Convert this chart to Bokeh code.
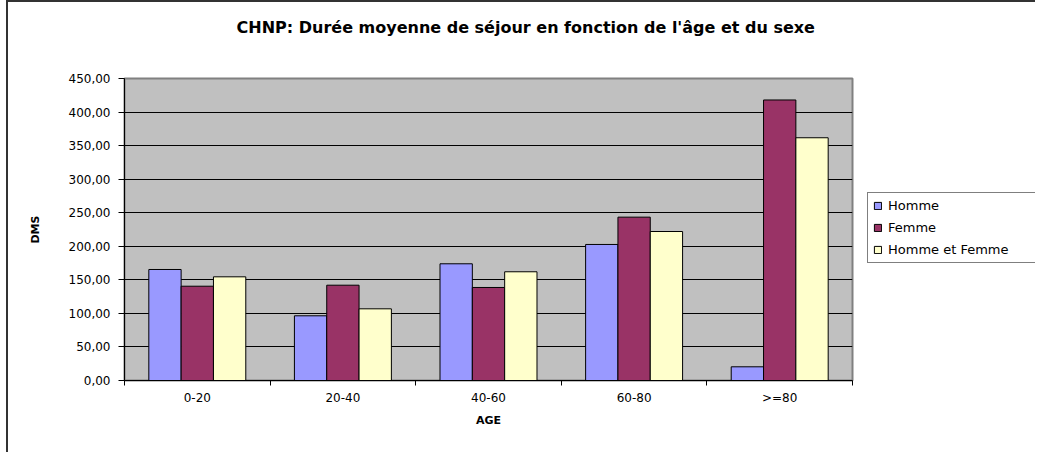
from bokeh.plotting import figure
from bokeh.layouts import row
from bokeh.models import (FixedTicker, Legend, LegendItem, Title, LinearAxis,
                          Range1d)
from bokeh.embed import file_html
from bokeh.resources import INLINE

# ---- data ----
categories = ["0-20", "20-40", "40-60", "60-80", ">=80"]
series_names = ["Homme", "Femme", "Homme et Femme"]
homme = [165.4, 96.4, 173.9, 202.7, 20.4]
femme = [140.5, 142.0, 138.6, 243.4, 418.0]
homme_et_femme = [154.5, 106.8, 162.0, 222.0, 361.7]
y_ticks = [0, 50, 100, 150, 200, 250, 300, 350, 400, 450]
y_tick_labels = ["0,00", "50,00", "100,00", "150,00", "200,00", "250,00",
                 "300,00", "350,00", "400,00", "450,00"]
title_text = "CHNP: Durée moyenne de séjour en fonction de l'âge et du sexe"
x_title = "AGE"
y_title = "DMS"

# ---- style ----
colors = ["#9999FF", "#993366", "#FFFFCC"]
FONT = "DejaVu Sans"
H = 450
ML, MR, MT = 116, 8, 76
FRAME_W, FRAME_H = 728, 302
MB = H - MT - FRAME_H
W1 = ML + FRAME_W + MR          # main figure width
W2 = 175                        # legend strip width
bar_w = 0.222
series = [homme, femme, homme_et_femme]

p = figure(width=W1, height=H, output_backend="svg", toolbar_location=None,
           tools="", title=None,
           x_range=Range1d(0, len(categories)), y_range=Range1d(0, 450),
           min_border_left=ML, min_border_right=MR,
           min_border_top=MT, min_border_bottom=MB)

p.background_fill_color = "#C0C0C0"
p.border_fill_color = "white"
p.outline_line_color = "#808080"
p.outline_line_width = 2

renderers = []
for j, vals in enumerate(series):
    xs = [i + 0.5 + (j - 1) * bar_w for i in range(len(categories))]
    r = p.vbar(x=xs, top=vals, bottom=0, width=bar_w,
               fill_color=colors[j], line_color="black", line_width=1)
    renderers.append(r)

# x axis: labels at centres, tick marks between categories
cat_centres = [i + 0.5 for i in range(len(categories))]
p.xaxis.ticker = FixedTicker(ticks=cat_centres,
                             minor_ticks=list(range(len(categories) + 1)))
p.xaxis.major_label_overrides = {c: lab for c, lab in zip(cat_centres, categories)}
p.xaxis.major_tick_in = 0
p.xaxis.major_tick_out = 0
p.xaxis.minor_tick_in = 0
p.xaxis.minor_tick_out = 5
p.xaxis.minor_tick_line_color = "black"
p.xaxis.major_label_standoff = 5
p.xaxis.axis_label = x_title
p.xaxis.axis_label_standoff = 6

p.yaxis.ticker = FixedTicker(ticks=y_ticks, minor_ticks=[])
p.yaxis.major_label_overrides = {t: lab for t, lab in zip(y_ticks, y_tick_labels)}
p.yaxis.major_tick_in = 0
p.yaxis.major_tick_out = 6
p.yaxis.major_label_standoff = 8
p.yaxis.axis_label = y_title
p.yaxis.axis_label_standoff = 24

for ax in (p.xaxis[0], p.yaxis[0]):
    ax.axis_line_color = "black"
    ax.major_tick_line_color = "black"
    ax.major_label_text_font = FONT
    ax.major_label_text_font_size = "12px"
    ax.major_label_text_color = "black"
    ax.axis_label_text_font = FONT
    ax.axis_label_text_font_size = "11px"
    ax.axis_label_text_font_style = "bold"
    ax.axis_label_text_color = "black"

p.xgrid.visible = False
p.ygrid.ticker = FixedTicker(ticks=y_ticks, minor_ticks=[])
p.ygrid.grid_line_color = "black"
p.ygrid.grid_line_width = 1

# invisible spacer between the frame and the title
spacer = LinearAxis(ticker=FixedTicker(ticks=[len(categories) / 2], minor_ticks=[]),
                    axis_line_color=None,
                    major_tick_line_color=None, minor_tick_line_color=None,
                    major_tick_out=42, major_tick_in=0, major_label_standoff=0,
                    major_label_overrides={len(categories) / 2: ""},
                    major_label_text_font_size="1px")
p.add_layout(spacer, "above")

title = Title(text=title_text, align="left", offset=112, standoff=0,
              text_font=FONT, text_font_size="16px", text_font_style="bold",
              text_color="black")
p.add_layout(title, "above")

# ---- legend strip (to the right of the plot area) ----
p2 = figure(width=W2, height=H, output_backend="svg", toolbar_location=None,
            tools="", title=None, x_axis_type=None, y_axis_type=None,
            x_range=Range1d(-2, -1), y_range=Range1d(0, 450), min_border=0)
p2.outline_line_color = None
p2.background_fill_color = "white"
p2.border_fill_color = "white"
p2.grid.visible = False

leg_renderers = []
for j, vals in enumerate(series):
    xs = [i + 0.5 + (j - 1) * bar_w for i in range(len(categories))]
    r = p2.vbar(x=xs, top=vals, bottom=0, width=bar_w,
                fill_color=colors[j], line_color="black", line_width=1)
    leg_renderers.append(r)

legend = Legend(items=[LegendItem(label=n, renderers=[r])
                       for n, r in zip(series_names, leg_renderers)],
                location=(7, 117))
legend.border_line_color = "black"
legend.border_line_width = 1
legend.background_fill_color = "white"
legend.background_fill_alpha = 1
legend.label_text_font = FONT
legend.label_text_font_size = "13px"
legend.label_text_color = "black"
legend.label_width = 170
legend.glyph_width = 9
legend.glyph_height = 9
legend.label_height = 14
legend.spacing = 7
legend.padding = 5
legend.margin = 0
legend.label_standoff = 6
p2.add_layout(legend)

layout = row(p, p2, spacing=0)
layout.styles = {"margin-left": "6px",
                 "border-left": "2px solid #333333",
                 "border-top": "2px solid #333333"}

open("out.html", "w").write(file_html(layout, INLINE))
